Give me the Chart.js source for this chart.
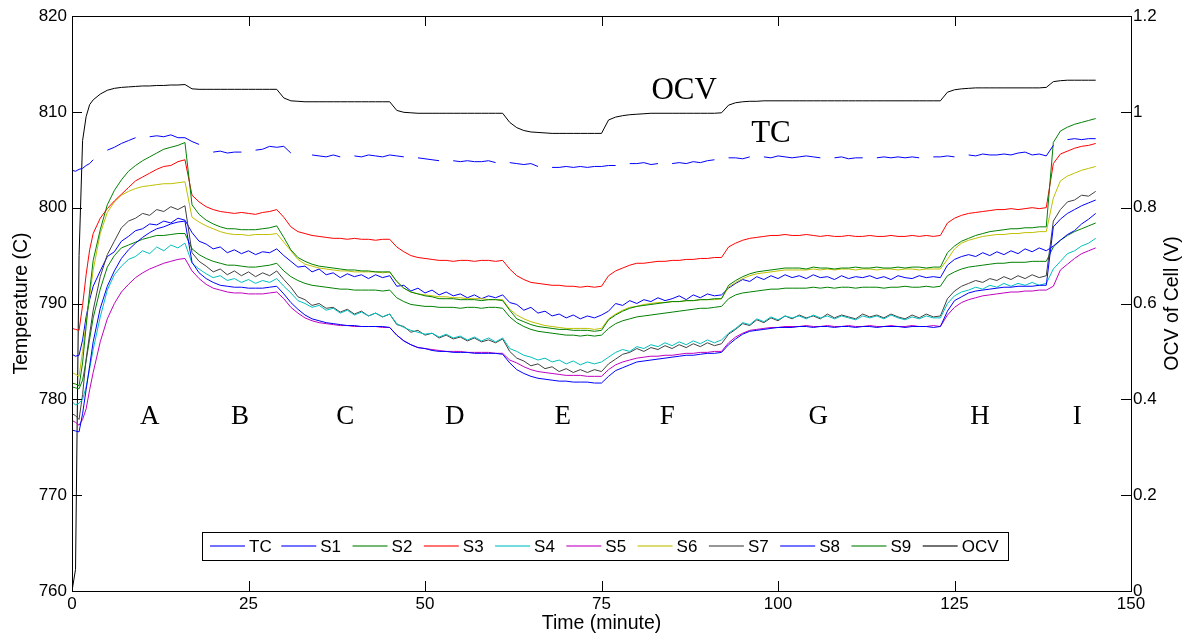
<!DOCTYPE html>
<html>
<head>
<meta charset="utf-8">
<script src="https://cdn.jsdelivr.net/npm/chart.js@4.4.0/dist/chart.umd.min.js"></script>
<style>
  html, body { margin: 0; padding: 0; background: #fff; }
  #wrap { width: 1186px; height: 635px; }
</style>
</head>
<body>
<div id="wrap"><canvas id="chart" width="1186" height="635"></canvas></div>
<script>
// time axis (minutes)
const minutes = [0, 0.5, 1, 1.5, 2, 2.5,
  3, 4, 5, 6, 7, 8, 9, 10, 11, 12,
  13, 14, 15, 16, 17, 18, 19, 20, 21, 22,
  23, 24, 25, 26, 27, 28, 29, 30, 31, 32,
  33, 34, 35, 36, 37, 38, 39, 40, 41, 42,
  43, 44, 45, 46, 47, 48, 49, 50, 51, 52,
  53, 54, 55, 56, 57, 58, 59, 60, 61, 62,
  63, 64, 65, 66, 67, 68, 69, 70, 71, 72,
  73, 74, 75, 76, 77, 78, 79, 80, 81, 82,
  83, 84, 85, 86, 87, 88, 89, 90, 91, 92,
  93, 94, 95, 96, 97, 98, 99, 100, 101, 102,
  103, 104, 105, 106, 107, 108, 109, 110, 111, 112,
  113, 114, 115, 116, 117, 118, 119, 120, 121, 122,
  123, 124, 125, 126, 127, 128, 129, 130, 131, 132,
  133, 134, 135, 136, 137, 138, 139, 140, 141, 142,
  143, 144, 145];

// temperatures (C), null = no reading
const tc = [803.9, 803.8, 804.0, 804.1, 804.4, 804.6,
  805.0, null, 806.0, 806.3, 806.7, 807.0, 807.3, null, 807.4, 807.5,
  807.4, 807.6, 807.3, 807.3, 806.9, 806.6, null, 805.8, 805.9, 805.7,
  805.8, 805.8, null, 806.0, 806.1, 806.4, 806.3, 806.4, 805.7, null,
  null, 805.5, 805.4, 805.3, 805.5, 805.3, null, 805.4, 805.3, 805.5,
  805.4, 805.3, 805.5, 805.4, 805.3, null, 805.2, 805.1, 805.0, 804.9,
  null, 804.9, 804.8, 804.9, 804.8, 804.8, 804.9, 804.7, null, 804.7,
  804.6, 804.5, 804.6, 804.3, null, 804.2, 804.2, 804.3, 804.2, 804.3,
  804.2, 804.3, 804.3, 804.4, 804.4, null, 804.6, 804.6, 804.7, 804.5,
  804.6, null, 804.6, 804.7, 804.6, 804.8, 804.7, 804.9, 805.0, null,
  805.2, 805.2, 805.1, 805.3, null, 805.3, 805.2, 805.4, 805.3, 805.2,
  805.3, 805.4, 805.3, 805.2, null, 805.2, 805.3, 805.1, 805.2, 805.2,
  null, 805.2, 805.3, 805.2, 805.3, 805.2, 805.3, 805.2, null, 805.3,
  805.3, 805.4, 805.3, null, 805.5, 805.4, 805.6, 805.5, 805.5, 805.6,
  805.5, 805.7, 805.8, 805.5, 805.6, 805.4, 806.5, null, 807.1, 807.2,
  807.1, 807.2, 807.2];

const s1 = [776.8, 776.7, 776.6, 778.5, 781.0, 783.5,
  786.0, 789.5, 791.8, 793.4, 794.7, 795.6, 796.3, 796.9, 797.4, 797.8,
  798.0, 798.3, 798.5, 798.6, 794.3, 793.2, 792.6, 792.2, 791.9, 791.8,
  791.7, 791.7, 791.6, 791.6, 791.6, 791.7, 791.8, 791.0, 790.1, 789.4,
  788.8, 788.4, 788.2, 788.0, 787.9, 787.8, 787.7, 787.7, 787.6, 787.6,
  787.6, 787.6, 787.5, 786.7, 786.1, 785.7, 785.4, 785.3, 785.1, 785.0,
  785.0, 784.9, 784.9, 784.9, 784.8, 784.8, 784.8, 784.8, 784.7, 783.8,
  783.1, 782.7, 782.4, 782.2, 782.1, 782.0, 781.9, 781.9, 781.8, 781.8,
  781.8, 781.7, 781.7, 782.4, 783.0, 783.3, 783.6, 783.9, 784.0, 784.1,
  784.2, 784.3, 784.4, 784.5, 784.6, 784.6, 784.7, 784.8, 784.8, 784.9,
  785.7, 786.3, 786.8, 787.1, 787.2, 787.3, 787.4, 787.5, 787.5, 787.5,
  787.6, 787.6, 787.5, 787.6, 787.6, 787.5, 787.6, 787.6, 787.5, 787.6,
  787.6, 787.5, 787.6, 787.6, 787.6, 787.5, 787.6, 787.6, 787.6, 787.5,
  787.6, 789.2, 790.3, 790.7, 791.1, 791.3, 791.4, 791.5, 791.6, 791.7,
  791.7, 791.8, 791.8, 791.8, 791.9, 791.9, 798.0, 798.8, 799.4, 799.8,
  800.2, 800.5, 800.8];

const s2 = [781.7, 781.6, 781.4, 783.8, 787.6, 791.3,
  794.5, 797.7, 800.3, 801.8, 802.9, 803.8, 804.4, 804.9, 805.3, 805.7,
  806.1, 806.3, 806.5, 806.8, 800.3, 799.3, 798.7, 798.3, 798.0, 797.8,
  797.8, 797.7, 797.7, 797.7, 797.8, 797.9, 798.1, 796.9, 795.6, 794.8,
  794.4, 794.1, 793.9, 793.8, 793.7, 793.6, 793.5, 793.5, 793.4, 793.4,
  793.3, 793.3, 793.3, 792.3, 791.6, 791.2, 791.0, 790.8, 790.7, 790.5,
  790.5, 790.5, 790.4, 790.4, 790.4, 790.3, 790.4, 790.4, 790.3, 789.3,
  788.4, 788.1, 787.8, 787.6, 787.5, 787.4, 787.3, 787.3, 787.2, 787.2,
  787.2, 787.1, 787.2, 788.3, 788.8, 789.2, 789.5, 789.7, 789.8, 789.9,
  790.0, 790.1, 790.2, 790.2, 790.3, 790.3, 790.4, 790.4, 790.5, 790.5,
  791.9, 792.4, 792.8, 793.1, 793.3, 793.4, 793.5, 793.6, 793.7, 793.7,
  793.7, 793.6, 793.8, 793.7, 793.7, 793.6, 793.7, 793.7, 793.8, 793.7,
  793.7, 793.8, 793.7, 793.7, 793.8, 793.7, 793.8, 793.8, 793.7, 793.8,
  793.8, 795.3, 796.0, 796.5, 796.8, 797.1, 797.3, 797.5, 797.6, 797.7,
  797.8, 797.8, 797.9, 797.9, 798.0, 798.0, 806.8, 808.0, 808.4, 808.7,
  808.9, 809.1, 809.3];

const s3 = [787.4, 787.3, 787.2, 789.8, 793.0, 795.6,
  797.3, 798.9, 799.9, 800.7, 801.4, 802.1, 802.8, 803.2, 803.6, 804.0,
  804.3, 804.4, 804.8, 805.0, 801.3, 800.6, 800.1, 799.8, 799.6, 799.5,
  799.4, 799.5, 799.4, 799.3, 799.5, 799.6, 799.8, 799.0, 798.0, 797.5,
  797.3, 797.1, 797.0, 796.9, 796.8, 796.8, 796.7, 796.8, 796.7, 796.7,
  796.6, 796.7, 796.7, 795.9, 795.4, 795.0, 794.8, 794.7, 794.6, 794.5,
  794.5, 794.4, 794.5, 794.5, 794.4, 794.5, 794.5, 794.4, 794.5, 793.6,
  792.9, 792.5, 792.2, 792.1, 792.0, 791.9, 791.9, 791.8, 791.8, 791.7,
  791.8, 791.7, 791.8, 792.9, 793.4, 793.7, 794.0, 794.2, 794.2, 794.3,
  794.4, 794.4, 794.5, 794.5, 794.6, 794.6, 794.7, 794.7, 794.8, 794.8,
  795.9, 796.3, 796.6, 796.8, 796.9, 797.0, 797.1, 797.1, 797.2, 797.1,
  797.1, 797.2, 797.1, 797.0, 797.1, 797.0, 797.0, 797.1, 797.0, 797.0,
  797.1, 797.0, 797.0, 797.1, 797.0, 797.0, 797.1, 797.0, 797.1, 797.0,
  797.1, 798.4, 798.9, 799.2, 799.4, 799.5, 799.6, 799.7, 799.8, 799.8,
  799.9, 799.8, 799.9, 800.0, 799.9, 800.0, 804.6, 805.6, 805.9, 806.2,
  806.4, 806.5, 806.7];

const s4 = [779.8, 779.4, 779.6, 780.0, 781.3, 783.2,
  785.2, 788.6, 791.4, 793.0, 793.9, 794.6, 794.9, 795.5, 795.2, 795.9,
  795.5, 796.1, 795.8, 796.3, 794.2, 793.6, 793.1, 792.7, 792.9, 792.4,
  792.6, 792.2, 792.5, 792.1, 792.4, 792.2, 792.6, 791.8, 791.1, 790.3,
  790.0, 789.6, 789.8, 789.3, 789.5, 789.0, 789.3, 788.8, 789.1, 788.7,
  789.0, 788.6, 788.9, 787.9, 787.5, 787.2, 787.0, 786.8, 786.9, 786.5,
  786.8, 786.4, 786.6, 786.2, 786.5, 786.1, 786.4, 786.0, 786.4, 785.3,
  785.0, 784.6, 784.4, 784.1, 784.3, 783.9, 784.1, 783.7, 784.0, 783.6,
  783.9, 783.7, 783.9, 784.4, 784.9, 785.2, 785.0, 785.5, 785.3, 785.7,
  785.5, 785.9, 785.6, 786.0, 785.7, 786.1, 785.8, 786.2, 785.9, 786.2,
  786.9, 787.4, 788.0, 787.8, 788.4, 788.1, 788.6, 788.3, 788.7, 788.5,
  788.7, 788.4, 788.8, 788.5, 788.7, 788.4, 788.7, 788.5, 788.3, 788.7,
  788.5, 788.7, 788.4, 788.8, 788.5, 788.3, 788.6, 788.4, 788.7, 788.5,
  788.5, 790.0, 790.8, 791.2, 791.4, 791.7, 791.5, 791.9, 791.7, 792.1,
  791.8, 792.1, 791.9, 792.2, 791.9, 792.1, 793.6, 794.4, 795.2, 795.5,
  796.0, 796.3, 796.8];

const s5 = [777.8, 777.6, 777.3, 777.9, 779.0, 781.0,
  782.8, 786.0, 788.4, 790.0, 791.2, 792.0, 792.7, 793.2, 793.6, 793.9,
  794.2, 794.4, 794.6, 794.7, 793.4, 792.6, 792.0, 791.6, 791.4, 791.2,
  791.1, 791.1, 791.0, 791.0, 791.0, 791.1, 791.2, 790.5, 789.6, 789.0,
  788.5, 788.2, 788.0, 787.9, 787.8, 787.7, 787.7, 787.6, 787.6, 787.6,
  787.6, 787.5, 787.5, 786.7, 786.1, 785.7, 785.4, 785.3, 785.2, 785.1,
  785.0, 785.0, 785.0, 784.9, 784.9, 784.9, 784.9, 784.8, 784.8, 784.1,
  783.8, 783.4, 783.1, 782.9, 782.8, 782.7, 782.6, 782.5, 782.5, 782.5,
  782.4, 782.4, 782.4, 783.1, 783.6, 783.9, 784.1, 784.3, 784.4, 784.5,
  784.5, 784.6, 784.6, 784.7, 784.8, 784.8, 784.9, 784.9, 785.0, 785.0,
  785.9, 786.5, 786.9, 787.2, 787.3, 787.4, 787.5, 787.5, 787.6, 787.6,
  787.6, 787.7, 787.6, 787.6, 787.7, 787.6, 787.6, 787.7, 787.6, 787.6,
  787.7, 787.6, 787.6, 787.7, 787.6, 787.6, 787.7, 787.6, 787.6, 787.7,
  787.6, 788.8, 789.6, 790.1, 790.4, 790.6, 790.8, 790.9, 791.0, 791.1,
  791.2, 791.2, 791.3, 791.3, 791.4, 791.4, 791.8, 793.5, 794.1, 794.7,
  795.2, 795.5, 795.8];

const s6 = [782.8, 782.6, 782.4, 785.0, 788.0, 790.8,
  793.5, 797.3, 799.5, 800.6, 801.3, 801.7, 802.0, 802.2, 802.3, 802.4,
  802.5, 802.5, 802.6, 802.7, 799.0, 798.5, 798.1, 797.8, 797.5, 797.3,
  797.2, 797.2, 797.1, 797.2, 797.2, 797.2, 797.3, 796.4, 795.5, 794.6,
  794.1, 793.9, 793.7, 793.6, 793.5, 793.4, 793.4, 793.3, 793.3, 793.3,
  793.3, 793.2, 793.3, 792.3, 791.6, 791.2, 791.0, 790.9, 790.8, 790.7,
  790.7, 790.6, 790.6, 790.5, 790.5, 790.5, 790.4, 790.4, 790.4, 789.4,
  788.8, 788.4, 788.1, 787.9, 787.7, 787.6, 787.5, 787.4, 787.4, 787.4,
  787.4, 787.3, 787.4, 788.4, 788.9, 789.3, 789.6, 789.7, 789.9, 790.0,
  790.1, 790.1, 790.2, 790.2, 790.3, 790.3, 790.4, 790.4, 790.4, 790.5,
  791.7, 792.2, 792.6, 792.9, 793.1, 793.2, 793.3, 793.4, 793.5, 793.5,
  793.5, 793.5, 793.6, 793.5, 793.6, 793.5, 793.6, 793.6, 793.5, 793.6,
  793.6, 793.5, 793.6, 793.6, 793.5, 793.6, 793.6, 793.5, 793.6, 793.6,
  793.6, 794.6, 795.7, 796.3, 796.6, 796.8, 797.0, 797.1, 797.2, 797.2,
  797.3, 797.3, 797.4, 797.4, 797.5, 797.5, 801.0, 802.8, 803.3, 803.6,
  803.9, 804.1, 804.3];

const s7 = [778.5, 778.3, 777.9, 780.5, 784.2, 786.8,
  789.3, 792.8, 795.1, 796.5, 797.9, 798.6, 798.9, 799.4, 799.2, 799.8,
  799.6, 800.1, 799.8, 800.2, 795.3, 794.4, 793.9, 793.3, 793.6, 793.0,
  793.4, 792.9, 793.3, 792.8, 793.2, 792.9, 793.4, 792.5, 791.7, 790.7,
  790.4, 789.8, 790.0, 789.5, 789.6, 789.1, 789.4, 788.9, 789.2, 788.7,
  789.0, 788.6, 788.9, 787.8, 787.6, 787.0, 787.2, 786.7, 786.9, 786.4,
  786.7, 786.3, 786.5, 786.1, 786.4, 786.0, 786.2, 785.9, 786.3, 785.0,
  784.3, 784.0, 783.5, 783.7, 783.2, 783.4, 782.9, 783.2, 782.8, 783.1,
  782.8, 783.1, 782.9, 783.7, 784.2, 784.7, 784.9, 785.3, 785.0, 785.4,
  785.2, 785.6, 785.3, 785.7, 785.4, 785.8, 785.5, 785.9, 785.6, 785.8,
  786.8, 787.3, 787.9, 787.7, 788.3, 788.0, 788.5, 788.2, 788.7, 788.4,
  788.8, 788.5, 788.7, 788.4, 788.9, 788.5, 788.8, 788.6, 788.4, 788.9,
  788.6, 788.8, 788.5, 788.9, 788.6, 788.4, 788.8, 788.5, 788.9, 788.6,
  788.7, 790.5, 791.3, 791.8, 792.1, 792.4, 792.2, 792.6, 792.4, 792.8,
  792.5, 792.9, 792.6, 793.0, 792.7, 792.9, 798.6, 799.8, 800.6, 800.8,
  801.3, 801.2, 801.7];

const s8 = [784.7, 784.5, 784.6, 786.2, 788.6, 790.4,
  791.8, 793.4, 794.9, 795.4, 796.5, 797.0, 797.6, 797.8, 798.3, 798.2,
  798.6, 798.4, 798.9, 798.7, 797.4, 796.5, 796.2, 795.7, 795.9, 795.3,
  795.6, 795.2, 795.5, 795.1, 795.4, 795.3, 795.7, 795.0, 794.4, 793.8,
  793.9, 793.3, 793.6, 793.0, 793.2, 792.7, 793.1, 792.8, 793.0, 792.6,
  793.0, 792.7, 792.9, 791.8, 791.9, 791.3, 791.6, 791.1, 791.4, 790.9,
  791.2, 790.8, 791.0, 790.6, 790.9, 790.5, 790.8, 790.6, 790.9, 790.1,
  789.9, 789.3, 789.6, 789.0, 789.2, 788.7, 788.9, 788.5, 788.8, 788.4,
  788.7, 788.5, 788.8, 789.2, 790.0, 789.8, 790.3, 790.0, 790.4, 790.2,
  790.6, 790.3, 790.5, 790.8, 790.4, 790.9, 790.6, 791.0, 790.8, 790.9,
  791.6, 792.1, 792.5, 792.3, 792.8, 792.5, 792.9, 792.6, 793.0, 792.7,
  792.9, 792.6, 793.0, 792.7, 792.8, 792.5, 792.9, 792.6, 792.8, 792.7,
  792.9, 792.6, 792.8, 792.5, 792.9, 792.7, 792.6, 792.9, 792.7, 792.8,
  792.7, 794.0, 794.6, 794.9, 795.1, 794.9, 795.3, 795.0, 795.4, 795.1,
  795.5, 795.2, 795.7, 795.4, 795.8, 795.5, 796.0, 796.6, 797.2, 797.6,
  798.3, 798.8, 799.4];

const s9 = [781.3, 781.2, 781.1, 782.0, 784.0, 786.3,
  788.5, 791.5, 793.8, 795.0, 795.8, 796.1, 796.4, 796.7, 796.9, 797.1,
  797.1, 797.2, 797.3, 797.3, 795.7, 795.1, 794.7, 794.4, 794.2, 794.0,
  794.0, 793.9, 793.8, 793.8, 793.9, 794.0, 794.2, 793.4, 792.8, 792.4,
  792.1, 791.9, 791.8, 791.7, 791.6, 791.5, 791.5, 791.4, 791.4, 791.4,
  791.4, 791.3, 791.4, 790.6, 790.2, 789.9, 789.8, 789.7, 789.7, 789.6,
  789.6, 789.6, 789.5, 789.6, 789.6, 789.5, 789.6, 789.6, 789.5, 788.6,
  788.0, 787.6, 787.3, 787.1, 787.0, 786.9, 786.8, 786.7, 786.7, 786.6,
  786.7, 786.6, 786.7, 787.4, 787.9, 788.2, 788.4, 788.6, 788.7, 788.8,
  788.9, 789.0, 789.1, 789.2, 789.3, 789.4, 789.5, 789.5, 789.6, 789.7,
  790.5, 790.9, 791.1, 791.2, 791.3, 791.4, 791.5, 791.5, 791.6, 791.6,
  791.6, 791.6, 791.7, 791.6, 791.7, 791.6, 791.7, 791.7, 791.6, 791.7,
  791.7, 791.7, 791.6, 791.7, 791.7, 791.8, 791.7, 791.7, 791.8, 791.7,
  791.8, 792.9, 793.3, 793.6, 793.8, 793.9, 794.0, 794.1, 794.2, 794.2,
  794.3, 794.3, 794.3, 794.4, 794.4, 794.4, 795.9, 796.6, 797.1, 797.5,
  797.8, 798.1, 798.4];

// open circuit voltage of the cell (V), right axis
const ocv = [0.000, 0.045, 0.700, 0.940, 0.990, 1.015,
  1.025, 1.037, 1.045, 1.049, 1.051, 1.052, 1.053, 1.054, 1.054, 1.055,
  1.055, 1.056, 1.056, 1.057, 1.048, 1.047, 1.047, 1.047, 1.047, 1.047,
  1.047, 1.047, 1.047, 1.047, 1.047, 1.047, 1.047, 1.029, 1.023, 1.022,
  1.021, 1.021, 1.021, 1.021, 1.021, 1.021, 1.021, 1.021, 1.021, 1.021,
  1.021, 1.021, 1.021, 1.003, 0.999, 0.998, 0.997, 0.997, 0.997, 0.997,
  0.997, 0.997, 0.997, 0.997, 0.997, 0.997, 0.997, 0.997, 0.997, 0.978,
  0.967, 0.961, 0.958, 0.957, 0.956, 0.955, 0.955, 0.955, 0.955, 0.955,
  0.955, 0.955, 0.955, 0.983, 0.989, 0.992, 0.994, 0.995, 0.996, 0.997,
  0.997, 0.997, 0.997, 0.997, 0.997, 0.997, 0.997, 0.997, 0.997, 0.998,
  1.014, 1.019, 1.021, 1.022, 1.022, 1.023, 1.023, 1.023, 1.023, 1.023,
  1.023, 1.023, 1.023, 1.023, 1.023, 1.023, 1.023, 1.023, 1.023, 1.023,
  1.023, 1.023, 1.023, 1.023, 1.023, 1.023, 1.023, 1.023, 1.023, 1.023,
  1.023, 1.041, 1.046, 1.048, 1.049, 1.050, 1.050, 1.050, 1.050, 1.050,
  1.050, 1.050, 1.050, 1.050, 1.050, 1.051, 1.063, 1.065, 1.066, 1.066,
  1.066, 1.066, 1.066];

const seriesNames = ['TC', 'S1', 'S2', 'S3', 'S4', 'S5', 'S6', 'S7', 'S8', 'S9', 'OCV'];
const seriesValues = [tc, s1, s2, s3, s4, s5, s6, s7, s8, s9, ocv];
const seriesColors = ['#0000ff', '#0000ff', '#008000', '#ff0000', '#00bfbf', '#bf00bf',
  '#bfbf00', '#404040', '#0000ff', '#008000', '#000000'];

// stage letters along the run
const stageNames = ['A', 'B', 'C', 'D', 'E', 'F', 'G', 'H', 'I'];
const stageTimes = [11, 23.8, 38.7, 54.2, 69.5, 84.3, 105.7, 128.6, 142.4];
const stageTemp = 778.2;

// in-plot curve labels (time, temperature)
const curveLabels = [['OCV', 86.7, 812.2], ['TC', 99.0, 807.7]];

const sans = 'Arial, "Liberation Sans", sans-serif';
const serif = '"Times New Roman", "Liberation Serif", serif';

const datasets = seriesNames.map((name, i) => ({
  label: name,
  data: minutes.map((t, j) => ({ x: t, y: seriesValues[i][j] })),
  yAxisID: name === 'OCV' ? 'y1' : 'y',
  borderColor: seriesColors[i],
  borderWidth: 1,
  pointRadius: 0,
  tension: 0,
  spanGaps: false,
  fill: false
}));

const framePlugin = {
  id: 'framePlugin',
  afterDatasetsDraw(chart) {
    const { ctx, chartArea: a, scales } = chart;
    ctx.save();
    ctx.fillStyle = '#000';
    ctx.textAlign = 'center';
    ctx.textBaseline = 'middle';
    ctx.font = '27px ' + serif;
    stageNames.forEach((s, i) => {
      ctx.fillText(s, scales.x.getPixelForValue(stageTimes[i]), scales.y.getPixelForValue(stageTemp));
    });
    ctx.font = '31px ' + serif;
    curveLabels.forEach(([txt, t, v]) => {
      ctx.fillText(txt, scales.x.getPixelForValue(t), scales.y.getPixelForValue(v));
    });

    // legend box inside the plot, bottom
    const top = a.bottom - 59, bottom = a.bottom - 31;
    const left = a.left + 130, right = a.left + 936;
    ctx.fillStyle = '#fff';
    ctx.fillRect(left, top, right - left, bottom - top);
    ctx.strokeStyle = '#000';
    ctx.lineWidth = 1;
    ctx.strokeRect(left + 0.5, top + 0.5, right - left, bottom - top);
    const midY = (top + bottom) / 2;
    ctx.font = '17px ' + sans;
    ctx.textAlign = 'left';
    seriesNames.forEach((name, i) => {
      const x0 = left + 8 + i * 71.27;
      ctx.save();
      ctx.globalAlpha = 0.55;
      ctx.strokeStyle = seriesColors[i];
      ctx.lineWidth = 2;
      ctx.beginPath();
      ctx.moveTo(x0, midY);
      ctx.lineTo(x0 + 35, midY);
      ctx.stroke();
      ctx.restore();
      ctx.fillStyle = '#000';
      ctx.fillText(name, x0 + 39, midY + 1);
    });
    ctx.restore();
  },
  afterDraw(chart) {
    const { ctx, chartArea: a, scales } = chart;
    ctx.save();
    ctx.strokeStyle = '#000';
    ctx.lineWidth = 1;
    ctx.strokeRect(Math.round(a.left) + 0.5, Math.round(a.top) + 0.5,
      Math.round(a.right - a.left), Math.round(a.bottom - a.top));
    const len = 10;
    ctx.beginPath();
    scales.x.ticks.forEach(tk => {
      const px = Math.round(scales.x.getPixelForValue(tk.value)) + 0.5;
      ctx.moveTo(px, a.bottom); ctx.lineTo(px, a.bottom - len);
      ctx.moveTo(px, a.top); ctx.lineTo(px, a.top + len);
    });
    scales.y.ticks.forEach(tk => {
      const py = Math.round(scales.y.getPixelForValue(tk.value)) + 0.5;
      ctx.moveTo(a.left, py); ctx.lineTo(a.left + len, py);
    });
    scales.y1.ticks.forEach(tk => {
      const py = Math.round(scales.y1.getPixelForValue(tk.value)) + 0.5;
      ctx.moveTo(a.right, py); ctx.lineTo(a.right - len, py);
    });
    ctx.stroke();

    // right axis title, reading bottom to top
    ctx.translate(a.right + 42, (a.top + a.bottom) / 2);
    ctx.rotate(-Math.PI / 2);
    ctx.fillStyle = '#000';
    ctx.font = '19.5px ' + sans;
    ctx.textAlign = 'center';
    ctx.textBaseline = 'middle';
    ctx.fillText('OCV of Cell (V)', 0, 0);
    ctx.restore();
  }
};

new Chart(document.getElementById('chart'), {
  type: 'line',
  data: { datasets },
  options: {
    responsive: false,
    animation: false,
    devicePixelRatio: 1,
    layout: { padding: { top: 16, left: 0, right: 0, bottom: 0 } },
    plugins: { legend: { display: false }, tooltip: { enabled: false } },
    scales: {
      x: {
        type: 'linear', min: 0, max: 150,
        grid: { display: false, drawTicks: false },
        border: { display: false },
        ticks: { stepSize: 25, color: '#000', padding: 3, maxRotation: 0, font: { family: sans, size: 17 } },
        title: { display: true, text: 'Time (minute)', color: '#000', padding: { top: 0, bottom: 0 }, font: { family: sans, size: 19.5 } },
        afterFit: s => { s.height = 44; }
      },
      y: {
        position: 'left', min: 760, max: 820,
        grid: { display: false, drawTicks: false },
        border: { display: false },
        ticks: { stepSize: 10, color: '#000', padding: 5, font: { family: sans, size: 17 } },
        title: { display: true, text: 'Temperature (C)', color: '#000', padding: { top: 10, bottom: 0 }, font: { family: sans, size: 19.5 } },
        afterFit: s => { s.width = 72; }
      },
      y1: {
        position: 'right', min: 0, max: 1.2,
        grid: { display: false, drawTicks: false },
        border: { display: false },
        ticks: {
          stepSize: 0.2, color: '#000', padding: 2, font: { family: sans, size: 17 },
          callback: v => String(parseFloat(Number(v).toFixed(1)))
        },
        afterFit: s => { s.width = 55; }
      }
    }
  },
  plugins: [framePlugin]
});
</script>
</body>
</html>
